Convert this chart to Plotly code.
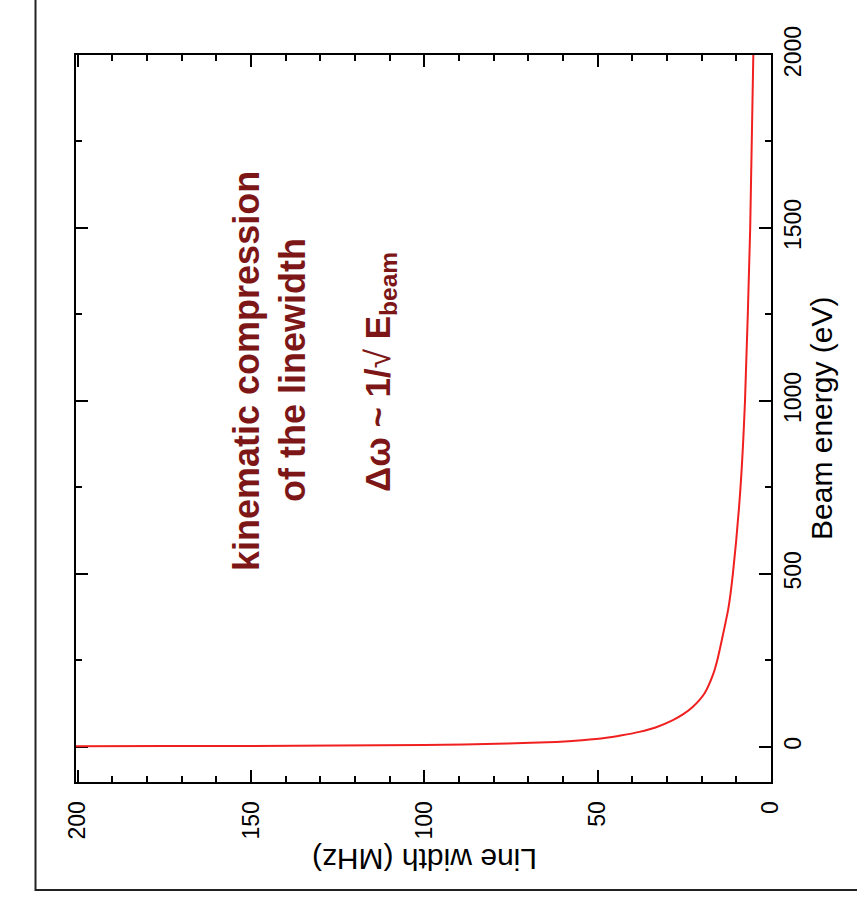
import plotly.graph_objects as go

# Data read from the (rotated) reference picture
beam_energy_eV = [1.15, 1.3, 2.3, 5.2, 9, 14, 19, 25, 33, 43, 55, 77, 95, 115, 154, 212, 250, 308, 400, 500, 750, 1000, 1500, 2000]
line_width_MHz = [210, 200, 150, 100, 76, 62, 54.5, 48, 43, 38, 33.5, 28.3, 25.2, 22.6, 19.2, 16.6, 15.5, 14.2, 12.3, 11.0, 8.8, 7.5, 6.0, 5.1]

mhz_ticks = [0, 50, 100, 150, 200]
ev_ticks = [0, 500, 1000, 1500, 2000]

FONT = "Liberation Sans, Arial, sans-serif"
DARKRED = "#7d1717"

fig = go.Figure()
fig.add_trace(go.Scatter(
    x=line_width_MHz, y=beam_energy_eV, mode="lines",
    line=dict(color="#f02020", width=2, shape="spline", smoothing=0.6),
    showlegend=False, hoverinfo="skip", cliponaxis=True))

W, H = 857, 921
L, R, T, B = 76, 86, 55, 139

fig.update_layout(
    width=W, height=H,
    margin=dict(l=L, r=R, t=T, b=B, autoexpand=False),
    paper_bgcolor="white", plot_bgcolor="white",
    font=dict(family=FONT, color="black", size=23),
    xaxis=dict(
        range=[200.5, 0], tickvals=mhz_ticks, ticktext=[str(v) for v in mhz_ticks],
        tickangle=-90, ticks="inside", ticklen=12, tickwidth=2, tickcolor="black",
        showline=True, linewidth=2, linecolor="black", mirror="ticks",
        showgrid=False, zeroline=False, ticklabelstandoff=8, layer="below traces",
        tickfont=dict(size=23, family=FONT),
        minor=dict(dtick=10, ticks="inside", ticklen=6, tickwidth=2, tickcolor="black", showgrid=False),
    ),
    yaxis=dict(
        range=[-102, 2000], side="right", tickvals=ev_ticks, ticktext=[str(v) for v in ev_ticks],
        tickangle=-90, ticks="inside", ticklen=12, tickwidth=2, tickcolor="black",
        showline=True, linewidth=2, linecolor="black", mirror="ticks",
        showgrid=False, zeroline=False, ticklabelstandoff=0, layer="below traces",
        tickfont=dict(size=23, family=FONT),
        minor=dict(dtick=250, ticks="inside", ticklen=6, tickwidth=2, tickcolor="black", showgrid=False),
    ),
)

pw, ph = W - L - R, H - T - B

def px(xp):
    return (xp - L) / pw

def py(yp):
    return (H - B - yp) / ph

# outer frame (only left and bottom edges visible in the picture)
fig.add_shape(type="rect", xref="paper", yref="paper",
              x0=px(35.5), x1=px(900), y0=py(890), y1=py(-50),
              line=dict(color="#222222", width=2), fillcolor="rgba(0,0,0,0)", layer="below")

def ann(x, y, text, angle, size, color):
    fig.add_annotation(xref="paper", yref="paper", x=px(x), y=py(y),
                       xanchor="center", yanchor="middle",
                       text=text, textangle=angle, showarrow=False,
                       font=dict(size=size, family=FONT, color=color))

# axis titles (rotated as in the picture)
ann(425, 860, "Line width (MHz)", 180, 30, "black")
ann(821, 419, "Beam energy (eV)", -90, 30, "black")

# in-plot texts
ann(246, 371, "<b>kinematic compression</b>", -90, 36, DARKRED)
ann(293, 370, "<b>of the linewidth</b>", -90, 36, DARKRED)
ann(380, 372, "<b>Δω ~ 1/</b>√ <b>E</b><sub><b>beam</b></sub>", -90, 35, DARKRED)

fig.write_html("out.html")
